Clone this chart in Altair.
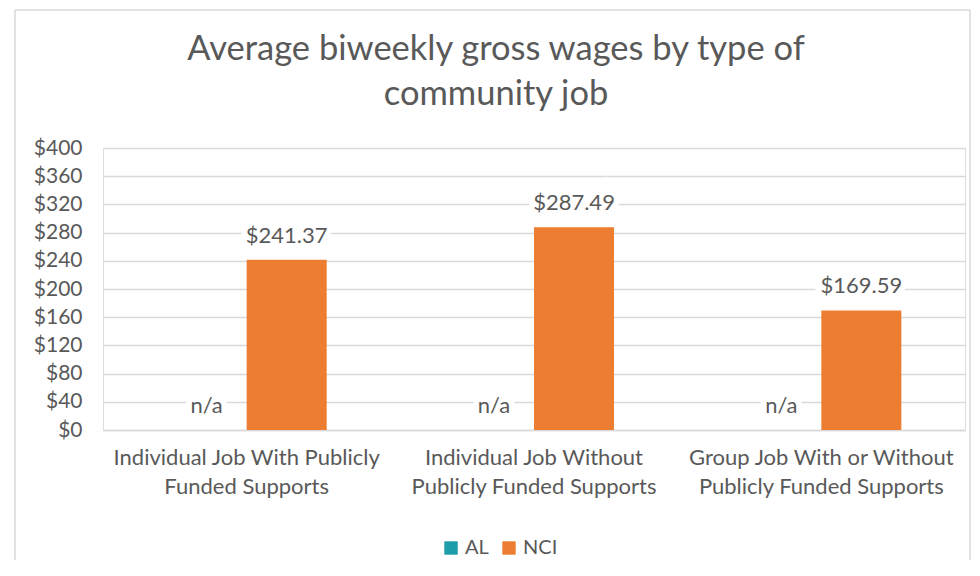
import altair as alt
import pandas as pd

title_lines = ["Average biweekly gross wages by type of", "community job"]
cat_line1 = ["Individual Job With Publicly", "Individual Job Without", "Group Job With or Without"]
cat_line2 = ["Funded Supports", "Publicly Funded Supports", "Publicly Funded Supports"]
series = ["AL", "NCI"]
al_values = [None, None, None]
nci_values = [241.37, 287.49, 169.59]
colors = ["#1F9CA9", "#ED7D31"]
y_ticks = [0, 40, 80, 120, 160, 200, 240, 280, 320, 360, 400]

categories = [a + " " + b for a, b in zip(cat_line1, cat_line2)]
rows = []
for i, c in enumerate(categories):
    for s, vals in zip(series, [al_values, nci_values]):
        v = vals[i]
        rows.append({
            "category": c,
            "series": s,
            "value": v,
            "ypos": v if v is not None else 0,
            "label": ("$" + format(v, ",.2f")) if v is not None else "n/a",
        })
df = pd.DataFrame(rows)

label_expr = " : ".join(
    f"datum.label == '{c}' ? ['{a}', '{b}']" for c, a, b in zip(categories, cat_line1, cat_line2)
) + " : datum.label"

TXT = "#595959"
GRID = "#D9D9D9"
FONT = "Lato"

x = alt.X("category:N", sort=categories, title=None,
          scale=alt.Scale(paddingInner=0.443, paddingOuter=0.2215),
          axis=alt.Axis(labelAngle=0, labelExpr=label_expr, labelFontSize=22,
                        labelColor=TXT, labelFont=FONT, labelLineHeight=29,
                        labelPadding=17, ticks=False, domainColor=GRID,
                        domainWidth=1.5, labelLimit=400))
xo = alt.XOffset("series:N", sort=series)
yscale = alt.Scale(domain=[0, 400], nice=False)
yaxis = alt.Axis(values=y_ticks, labelExpr="'$' + datum.value",
                 labelFontSize=21, labelColor=TXT, labelFont=FONT,
                 labelPadding=21, ticks=False, domain=False,
                 labelOverlap=False, gridColor=GRID, gridWidth=1.5)

base = alt.Chart(df)

bars = base.mark_bar().encode(
    x=x, xOffset=xo,
    y=alt.Y("value:Q", title=None, scale=yscale, axis=yaxis),
    color=alt.Color("series:N", sort=series,
                    scale=alt.Scale(domain=series, range=colors),
                    legend=alt.Legend(title=None, orient="none", legendX=338, legendY=390,
                                      direction="horizontal", symbolType="square",
                                      symbolSize=180, symbolStrokeWidth=0,
                                      labelFontSize=20, labelFont=FONT, labelColor=TXT,
                                      columnPadding=10, labelOffset=4, symbolOpacity=1)),
)

ytext = alt.Y("ypos:Q", title=None, scale=yscale, axis=yaxis)
halo = base.mark_text(baseline="middle", dy=-24, fontSize=22, font=FONT,
                      stroke="white", strokeWidth=12, fill="white").encode(
    x=x, xOffset=xo, y=ytext, text="label:N")
labels = base.mark_text(baseline="middle", dy=-24, fontSize=22, font=FONT,
                        color=TXT).encode(
    x=x, xOffset=xo, y=ytext, text="label:N")

title = alt.Chart(alt.Data(values=[{"t": title_lines}])).mark_text(
    fontSize=34.5, font=FONT, color=TXT, baseline="alphabetic", align="center",
    lineHeight=45).encode(x=alt.value(393), y=alt.value(-88), text="t:N")

one = alt.Data(values=[{}])
frame_top = alt.Chart(one).mark_rule(color=GRID, strokeWidth=1.5).encode(
    x=alt.value(-88), x2=alt.value(867), y=alt.value(-138))
frame_left = alt.Chart(one).mark_rule(color=GRID, strokeWidth=1.5).encode(
    x=alt.value(-88), y=alt.value(-138), y2=alt.value(418))
frame_right = alt.Chart(one).mark_rule(color=GRID, strokeWidth=1.5).encode(
    x=alt.value(867), y=alt.value(-138), y2=alt.value(418))

chart = alt.layer(frame_top, frame_left, frame_right, bars, halo, labels, title).properties(
    width=862, height=282,
    autosize=alt.AutoSizeParams(type="none"),
    padding={"left": 95, "top": 140, "right": 6, "bottom": 130},
).configure_view(stroke=None).configure(background="white")

chart.save("out.html", embed_options={"renderer": "svg", "actions": False})
